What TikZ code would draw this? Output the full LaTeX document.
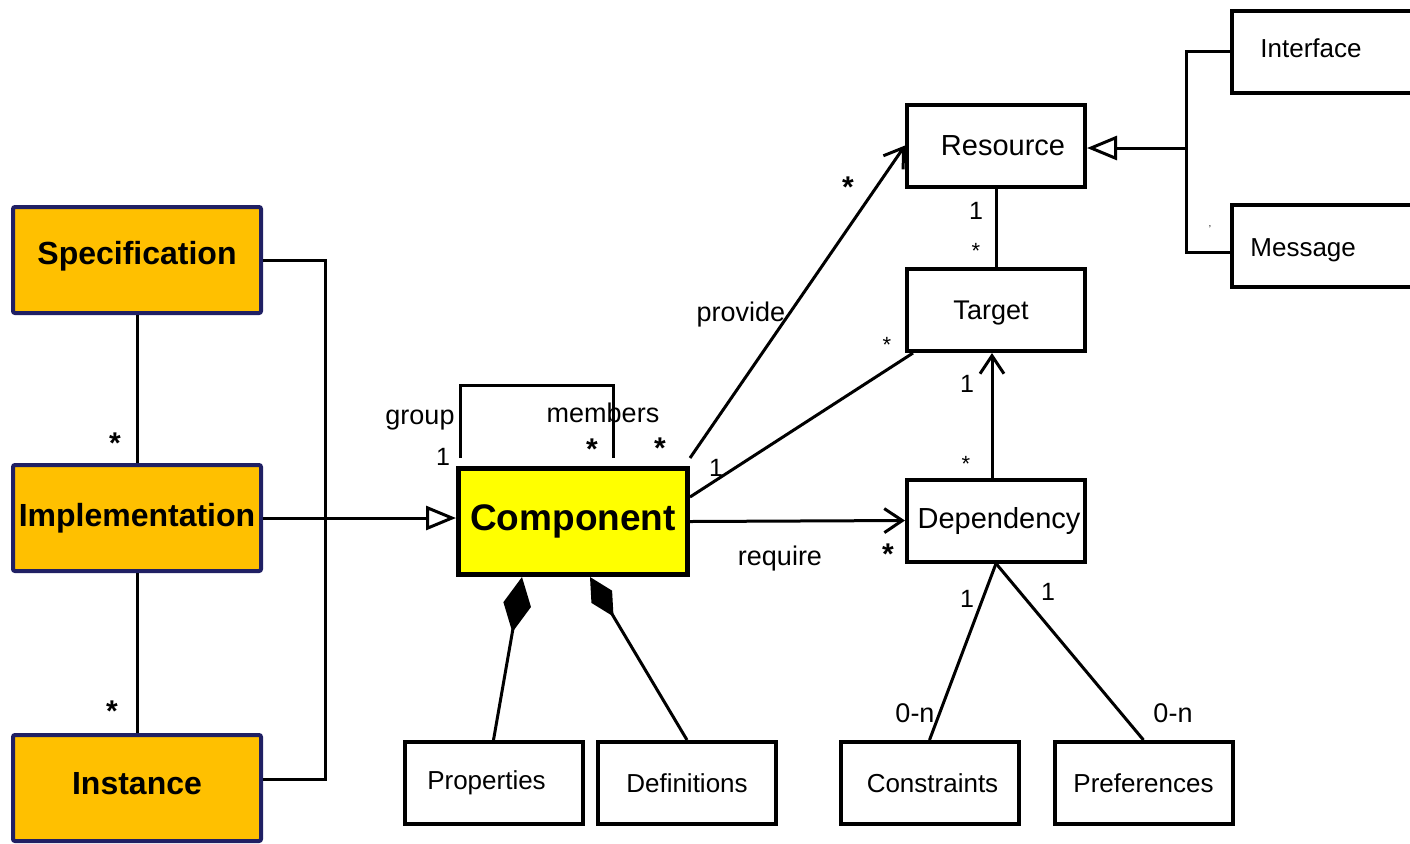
\documentclass[tikz,border=0pt]{standalone}
\usepackage{fontspec}
\setmainfont{Liberation Sans}
\usetikzlibrary{arrows.meta}
\definecolor{gold}{HTML}{FFC000}
\definecolor{navy}{RGB}{32,32,100}
\definecolor{compyellow}{HTML}{FFFF00}
\begin{document}
\begin{tikzpicture}[x=0.5pt,y=-0.5pt,
  kind/.style={draw=navy,fill=gold,line width=2pt,minimum width=124pt,minimum height=53pt,
    inner sep=0pt,rounded corners=1pt,font=\fontsize{16}{19}\selectfont\bfseries},
  cls/.style={draw,line width=2pt,minimum width=89pt,minimum height=41pt,inner sep=0pt,
    font=\fontsize{13}{15}\selectfont},
  conn/.style={line width=1.5pt},
  gen/.style={conn,-{Triangle[open,length=15pt,width=12pt]}},
  nav/.style={conn,-{Straight Barb[length=9pt,width=12pt]}},
  lbl/.style={inner sep=0pt,font=\fontsize{13.5}{16}\selectfont},
  num/.style={inner sep=0pt,font=\fontsize{12.5}{15}\selectfont},
  star/.style={inner sep=0pt,font=\fontsize{15}{18}\selectfont\bfseries},
  smallstar/.style={inner sep=0pt,font=\fontsize{11}{13}\selectfont},
]
\useasboundingbox (0,0) rectangle (1410,843);

% kinds of component
\node[kind,text depth=0.7em] (spec) at (137,260) {Specification};
\node[kind] (impl) at (137,518) {Implementation};
\node[kind,text depth=0.45em] (inst) at (137,788) {Instance};

% central class
\node[draw,fill=compyellow,line width=2.5pt,minimum width=114.5pt,minimum height=53pt,
  inner sep=0pt,font=\fontsize{18.5}{22}\selectfont\bfseries] (comp) at (573,521.5) {Component};

% classes on the right
\node[cls,font=\fontsize{14.5}{17}\selectfont] (res) at (996,145.5) {\kern7pt Resource};
\node[cls,text depth=0pt,font=\fontsize{13.5}{16}\selectfont] (target) at (996,310) {Target\kern5pt};
\node[cls,font=\fontsize{14.5}{17}\selectfont] (dep) at (996,520.5) {\kern3pt Dependency};
\node[cls,minimum width=94pt] (iface) at (1326,51.5) {};
\node[cls,minimum width=94pt] (msg) at (1326,246) {};
\node[lbl,font=\fontsize{13}{15}\selectfont,anchor=base west] (ifacetxt) at (1260,57) {Interface};
\node[lbl,font=\fontsize{13}{15}\selectfont,anchor=base west] (msgtxt) at (1250,256) {Message};
\node[inner sep=0pt,font=\fontsize{5}{6}\selectfont] (tick) at (1210,229) {'};

% parts of component and dependency
\node[cls] (props) at (493.5,783) {Properties\kern7pt};
\node[cls] (defs) at (687,783) {Definitions};
\node[cls] (cons) at (929.5,783) {\kern3pt Constraints};
\node[cls] (prefs) at (1143.5,783) {Preferences};

% bracket joining the three kinds
\coordinate (brtop) at (325,260);
\coordinate (brbot) at (325,779);
\draw[conn] (spec.east) -- (brtop) -- (brbot) -- (inst.east |- brbot);

% kind chain
\draw[conn] (spec) -- (impl);
\draw[conn] (impl) -- (inst);
\draw[gen] (impl.east) -- (impl.east -| comp.west);

% group / members self association
\coordinate (loopl) at (460,385);
\coordinate (loopr) at (613,385);
\draw[conn] ([xshift=2pt,yshift=4pt]comp.north west) -- (loopl) -- (loopr) -- (loopr |- 0,458);

% associations of component
\draw[nav] ([yshift=4pt]comp.north east) -- (res.west);
\draw[conn] (comp.east |- 0,497) -- ([xshift=4pt]target.south west);
\draw[nav] (comp.east) -- (dep.west);

% resource, target, dependency
\draw[conn] (res.south) -- (target.north);
\draw[nav] ([xshift=-2pt]dep.north) -- ([xshift=-2pt]target.south);
\draw[conn] (dep.south) -- (cons.north);
\draw[conn] (dep.south) -- (prefs.north);

% composition
\draw[conn,-{Diamond[length=28pt,width=14pt]}] (props.north) -- (522,0 |- comp.south);
\draw[conn,-{Diamond[length=23pt,width=12pt]}] (defs.north) -- (590,0 |- comp.south);

% resource specialisations
\coordinate (trktop) at (1186,51.5);
\coordinate (trkmid) at (1186,148);
\coordinate (trkbot) at (1186,252);
\draw[conn] (iface.west) -- (trktop) -- (trkbot) -- (msg.west |- trkbot);
\draw[gen] (trkmid) -- (res.east |- trkmid);

% multiplicities and role names
\node[star,anchor=north] (ls1) at (115,432) {*};
\node[star,anchor=north] (ls2) at (112,700) {*};
\node[lbl,anchor=base] (lgroup) at (420,424) {group};
\node[num,anchor=base] (lg1) at (443,465) {1};
\node[lbl,anchor=base] (lmem) at (603,422) {members};
\node[star,anchor=north] (lmemstar) at (592,438) {*};
\node[star,anchor=north] (lprovstar1) at (660,437) {*};
\node[lbl,anchor=base] (lprov) at (741,321) {provide};
\node[star,anchor=north] (lprovstar2) at (848,176) {*};
\node[num,anchor=base] (lt1) at (716,476) {1};
\node[smallstar,anchor=north] (ltstar) at (887,337) {*};
\node[lbl,anchor=base] (lreq) at (780,565) {require};
\node[star,anchor=north] (lreqstar) at (888,543) {*};
\node[num,anchor=base] (lr1) at (976,219) {1};
\node[smallstar,anchor=north] (lrstar) at (976,243) {*};
\node[num,anchor=base] (ld1) at (967,392) {1};
\node[smallstar,anchor=north] (ldstar) at (966,456) {*};
\node[num,anchor=base] (lc1) at (967,607) {1};
\node[lbl,anchor=base] (lc0n) at (915,722) {0-n};
\node[num,anchor=base] (lp1) at (1048,600) {1};
\node[lbl,anchor=base] (lp0n) at (1173,722) {0-n};
\end{tikzpicture}
\end{document}
